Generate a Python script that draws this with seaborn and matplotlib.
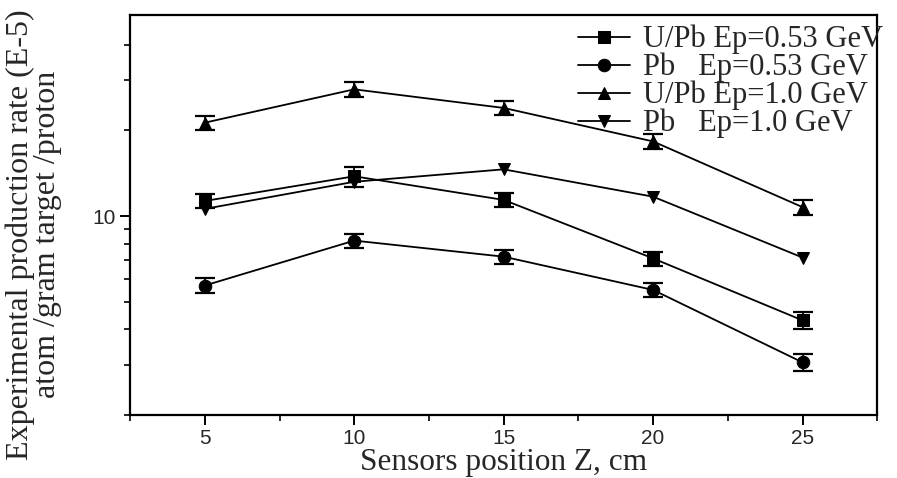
import matplotlib
matplotlib.use("Agg")
import matplotlib.pyplot as plt
import seaborn as sns
import numpy as np
import pandas as pd
from matplotlib.ticker import FixedLocator, NullFormatter, FixedFormatter

# ---- data ----
z_pos = [5, 10, 15, 20, 25]
upb_053 = [11.3, 13.8, 11.4, 7.1, 4.3]
upb_053_err = [0.65, 1.1, 0.65, 0.4, 0.3]
pb_053 = [5.7, 8.2, 7.2, 5.5, 3.06]
pb_053_err = [0.34, 0.47, 0.42, 0.32, 0.21]
upb_10 = [21.3, 27.9, 24.0, 18.3, 10.75]
upb_10_err = [1.2, 1.6, 1.4, 1.1, 0.65]
pb_10 = [10.6, 13.2, 14.6, 11.7, 7.15]

labels = ["U/Pb Ep=0.53 GeV", "Pb   Ep=0.53 GeV", "U/Pb Ep=1.0 GeV", "Pb   Ep=1.0 GeV"]
y_major = [10]
y_major_labels = ["10"]
y_minor = [2, 3, 4, 5, 6, 7, 8, 9, 20, 30, 40]
x_major = [5, 10, 15, 20, 25]
x_minor = [2.5, 7.5, 12.5, 17.5, 22.5, 27.5]

sns.set_style("ticks")
plt.rcParams['font.family'] = ['Liberation Serif', 'DejaVu Serif']

fig = plt.figure(figsize=(8.97, 4.78), dpi=100)
ax = fig.add_axes([0.145, 0.132, 0.833, 0.837])

series = [
    (upb_053, upb_053_err, 's', labels[0]),
    (pb_053, pb_053_err, 'o', labels[1]),
    (upb_10, upb_10_err, '^', labels[2]),
    (pb_10, None, 'v', labels[3]),
]

for vals, err, mk, lab in series:
    df = pd.DataFrame({"z": z_pos, "v": vals})
    sns.lineplot(data=df, x="z", y="v", ax=ax, color="black", linewidth=1.3,
                 marker=mk, markersize=9, markeredgecolor="black",
                 markerfacecolor="black", label=lab)
    if err is not None:
        ax.errorbar(z_pos, vals, yerr=err, fmt='none', ecolor='black',
                    elinewidth=1.3, capsize=7, capthick=1.6)

ax.set_yscale('log')
ax.set_xlim(2.5, 27.5)
ax.set_ylim(2, 51)

ax.yaxis.set_major_locator(FixedLocator(y_major))
ax.yaxis.set_major_formatter(FixedFormatter(y_major_labels))
ax.yaxis.set_minor_locator(FixedLocator(y_minor))
ax.yaxis.set_minor_formatter(NullFormatter())
ax.xaxis.set_major_locator(FixedLocator(x_major))
ax.xaxis.set_minor_locator(FixedLocator(x_minor))

ax.tick_params(axis='both', which='major', direction='out', length=7, width=1.4,
               labelsize=15, color='black')
ax.tick_params(axis='both', which='minor', direction='out', length=4, width=1.2,
               color='black')
ax.tick_params(top=False, right=False, which='both')
for lbl in ax.get_xticklabels() + ax.get_yticklabels():
    lbl.set_family(['Liberation Sans', 'DejaVu Sans'])

for side in ['left', 'bottom', 'top', 'right']:
    ax.spines[side].set_visible(True)
    ax.spines[side].set_color('black')
    ax.spines[side].set_linewidth(1.6)

ax.set_xlabel("Sensors position Z, cm", fontsize=22.5, labelpad=0)
ax.set_ylabel("Experimental production rate (E-5)\natom /gram target /proton",
              fontsize=23, linespacing=0.9)
ax.yaxis.set_label_coords(-0.091, 0.45)

leg = ax.legend(loc='upper left', bbox_to_anchor=(578 / 897, 1 - 25 / 478),
                bbox_transform=fig.transFigure, frameon=False,
                fontsize=22, handlelength=1.7, handletextpad=0.42,
                labelspacing=-0.05, borderaxespad=0, borderpad=0)

fig.savefig("out.png", dpi=100)
